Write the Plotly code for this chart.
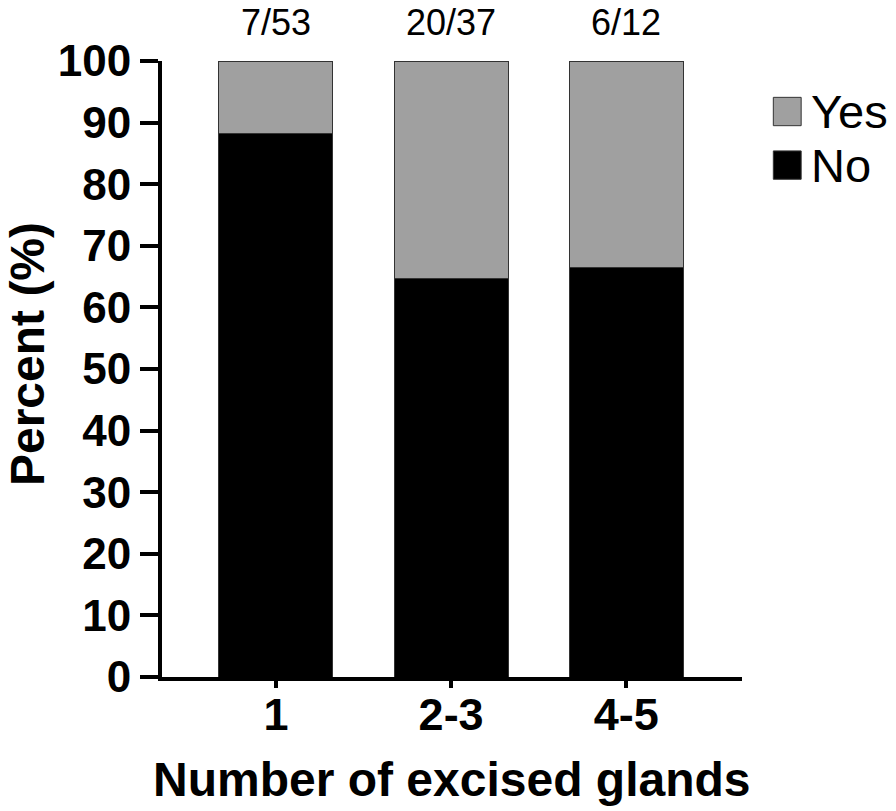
import plotly.graph_objects as go

# data
groups = ['1', '2-3', '4-5']
no_pct = [88.2, 64.7, 66.5]
yes_pct = [11.8, 35.3, 33.5]
counts = ['7/53', '20/37', '6/12']
series_names = ['Yes', 'No']
series_colors = ['#a0a0a0', '#000000']

FONT = 'Arial, Liberation Sans, sans-serif'

fig = go.Figure()
fig.add_trace(go.Bar(x=groups, y=no_pct, name=series_names[1],
                     marker=dict(color=series_colors[1], line=dict(color='#333333', width=1)),
                     showlegend=False))
fig.add_trace(go.Bar(x=groups, y=yes_pct, name=series_names[0],
                     marker=dict(color=series_colors[0], line=dict(color='#333333', width=1)),
                     showlegend=False))

# counts above each bar (category index as x)
for i, c in enumerate(counts):
    fig.add_annotation(x=i, y=1, xref='x', yref='paper', text=c, showarrow=False,
                       yanchor='middle', yshift=39,
                       font=dict(family=FONT, size=36, color='black'))

# hand made legend (big swatches like the original)
legend_rows = [(0.918, series_names[0], series_colors[0]), (0.831, series_names[1], series_colors[1])]
for yc, name, col in legend_rows:
    fig.add_shape(type='rect', xref='paper', yref='paper',
                  x0=1.054, x1=1.102, y0=yc - 0.023, y1=yc + 0.023,
                  fillcolor=col, line=dict(color='#333333', width=1))
    fig.add_annotation(x=1.115, y=yc, xref='paper', yref='paper', text=name, showarrow=False,
                       xanchor='left', yanchor='middle',
                       font=dict(family=FONT, size=47, color='black'))

# axis titles as annotations so they sit where the original has them
fig.add_annotation(x=0.5, y=-0.167, xref='paper', yref='paper', showarrow=False,
                   text='<b>Number of excised glands</b>', yanchor='middle',
                   font=dict(family=FONT, size=48, color='black'))
fig.add_annotation(x=-0.232, y=0.525, xref='paper', yref='paper', showarrow=False,
                   text='<b>Percent (%)</b>', textangle=-90, xanchor='center', yanchor='middle',
                   font=dict(family=FONT, size=48, color='black'))

fig.update_layout(
    barmode='stack',
    bargap=0.35,
    width=896, height=811,
    margin=dict(l=162, r=154, t=61, b=134),
    plot_bgcolor='white', paper_bgcolor='white',
    font=dict(family=FONT, color='black'),
)
fig.update_xaxes(
    range=[-0.65, 2.66], automargin=False,
    showline=True, linecolor='black', linewidth=4,
    ticks='outside', ticklen=7, tickwidth=4, tickcolor='black',
    ticklabelstandoff=-12,
    tickfont=dict(family=FONT, size=45, color='black', weight='bold'),
    showgrid=False, zeroline=False,
)
fig.update_yaxes(
    range=[0, 100], tickvals=list(range(0, 101, 10)), automargin=False,
    showline=True, linecolor='black', linewidth=4,
    ticks='outside', ticklen=18, tickwidth=4, tickcolor='black',
    tickfont=dict(family=FONT, size=44, color='black', weight='bold'),
    showgrid=False, zeroline=False,
)

# drop the default page margin so the figure fills the window exactly
fig.write_html("out.html", config={'displayModeBar': False},
               post_script="document.body.style.margin='0';")
